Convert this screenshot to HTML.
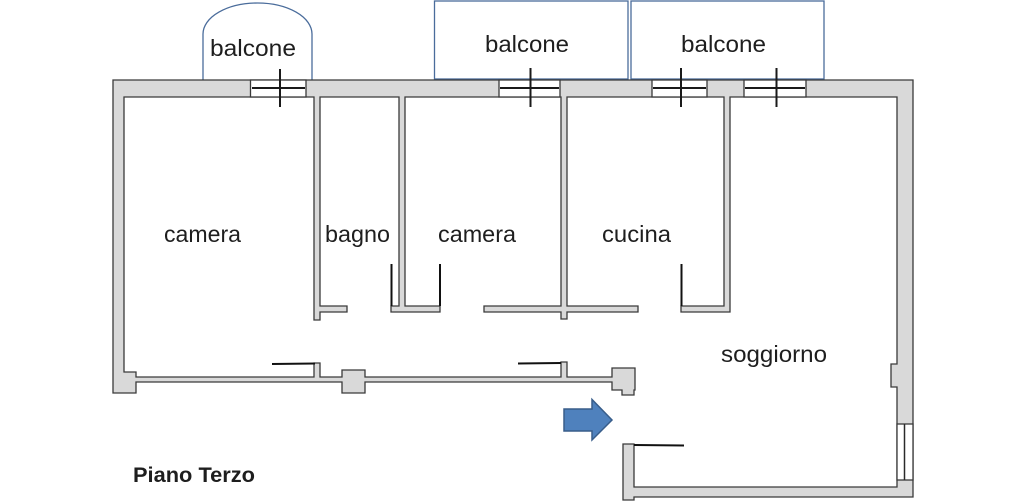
<!DOCTYPE html>
<html>
<head>
<meta charset="utf-8">
<style>
  html, body { margin: 0; padding: 0; background: #ffffff; }
  body { width: 1024px; height: 502px; overflow: hidden; }
  svg { display: block; }
  text { font-family: "Liberation Sans", "DejaVu Sans", sans-serif; fill: #1e1e1e; }
</style>
</head>
<body>
<svg width="1024" height="502" viewBox="0 0 1024 502" xmlns="http://www.w3.org/2000/svg">
  <rect x="0" y="0" width="1024" height="502" fill="#ffffff"/>

  <!-- balconies -->
  <path d="M203,80 L203,34 A54.5,31 0 0 1 312,34 L312,80" fill="#ffffff" stroke="#4a6c9b" stroke-width="1.3"/>
  <rect x="434.5" y="1" width="193.5" height="78" fill="#ffffff" stroke="#4a6c9b" stroke-width="1.3"/>
  <rect x="631" y="1" width="193" height="78" fill="#ffffff" stroke="#4a6c9b" stroke-width="1.3"/>

  <!-- main wall outline -->
  <path d="M113,80 H913 V497 H634 V500 H623 V444 H634 V487 H897 V387 H891 V364 H897 V97
           H730 V312 H681 V306 H724 V97
           H567 V306 H638 V312 H567 V319 H561 V312 H484 V306 H561 V97
           H405 V306 H440 V312 H391 V306 H399 V97
           H320 V306 H347 V312 H320 V320 H314 V97
           H124 V372 H136 V377
           H314 V363 H320 V377
           H342 V370 H365 V377
           H561 V362 H567 V377
           H612 V368 H635 V390 H634 V395 H622 V390 H612 V382
           H365 V393 H342 V382
           H136 V393 H113 Z"
        fill="#d9d9d9" stroke="#3a3a3a" stroke-width="1.3" stroke-linejoin="miter"/>

  <!-- top windows -->
  <g fill="#ffffff" stroke="#3a3a3a" stroke-width="1.3">
    <rect x="250.5" y="80" width="55.5" height="17"/>
    <rect x="499" y="80" width="61" height="17"/>
    <rect x="652" y="80" width="55" height="17"/>
    <rect x="744" y="80" width="62" height="17"/>
    <!-- right window -->
    <rect x="897" y="424" width="16" height="56"/>
  </g>
  <g stroke="#1a1a1a" stroke-width="2" fill="none">
    <line x1="252" y1="88" x2="305" y2="88"/>
    <line x1="280" y1="69" x2="280" y2="107"/>
    <line x1="500" y1="88" x2="559" y2="88"/>
    <line x1="530.5" y1="68" x2="530.5" y2="107"/>
    <line x1="653" y1="88" x2="706" y2="88"/>
    <line x1="681" y1="68" x2="681" y2="107"/>
    <line x1="745" y1="88" x2="805" y2="88"/>
    <line x1="776.5" y1="68" x2="776.5" y2="107"/>
  </g>
  <line x1="904.5" y1="424" x2="904.5" y2="480" stroke="#2a2a2a" stroke-width="1.5"/>

  <!-- door lines -->
  <g stroke="#111111" stroke-width="2" fill="none">
    <line x1="272" y1="364" x2="315" y2="363.5"/>
    <line x1="518" y1="363.5" x2="561" y2="363"/>
    <line x1="391.5" y1="264" x2="391.5" y2="306"/>
    <line x1="440" y1="264" x2="440" y2="306"/>
    <line x1="681.5" y1="264" x2="681.5" y2="306"/>
    <line x1="634" y1="445" x2="684" y2="445.5"/>
  </g>

  <!-- entrance arrow -->
  <polygon points="564,409 592,409 592,399.5 612,420 592,440 592,431 564,431" fill="#4f81bd" stroke="#385d8a" stroke-width="1.5" stroke-linejoin="miter"/>

  <!-- labels -->
  <text x="210" y="56" font-size="23" textLength="86" lengthAdjust="spacingAndGlyphs">balcone</text>
  <text x="485" y="52" font-size="23" textLength="84" lengthAdjust="spacingAndGlyphs">balcone</text>
  <text x="681" y="52" font-size="23" textLength="85" lengthAdjust="spacingAndGlyphs">balcone</text>
  <text x="164" y="242" font-size="23" textLength="77" lengthAdjust="spacingAndGlyphs">camera</text>
  <text x="325" y="242" font-size="23" textLength="65" lengthAdjust="spacingAndGlyphs">bagno</text>
  <text x="438" y="242" font-size="23" textLength="78" lengthAdjust="spacingAndGlyphs">camera</text>
  <text x="602" y="242" font-size="23" textLength="69" lengthAdjust="spacingAndGlyphs">cucina</text>
  <text x="721" y="362" font-size="23" textLength="106" lengthAdjust="spacingAndGlyphs">soggiorno</text>
  <text x="133" y="482" font-size="21" font-weight="bold" textLength="122" lengthAdjust="spacingAndGlyphs">Piano Terzo</text>
</svg>
</body>
</html>
